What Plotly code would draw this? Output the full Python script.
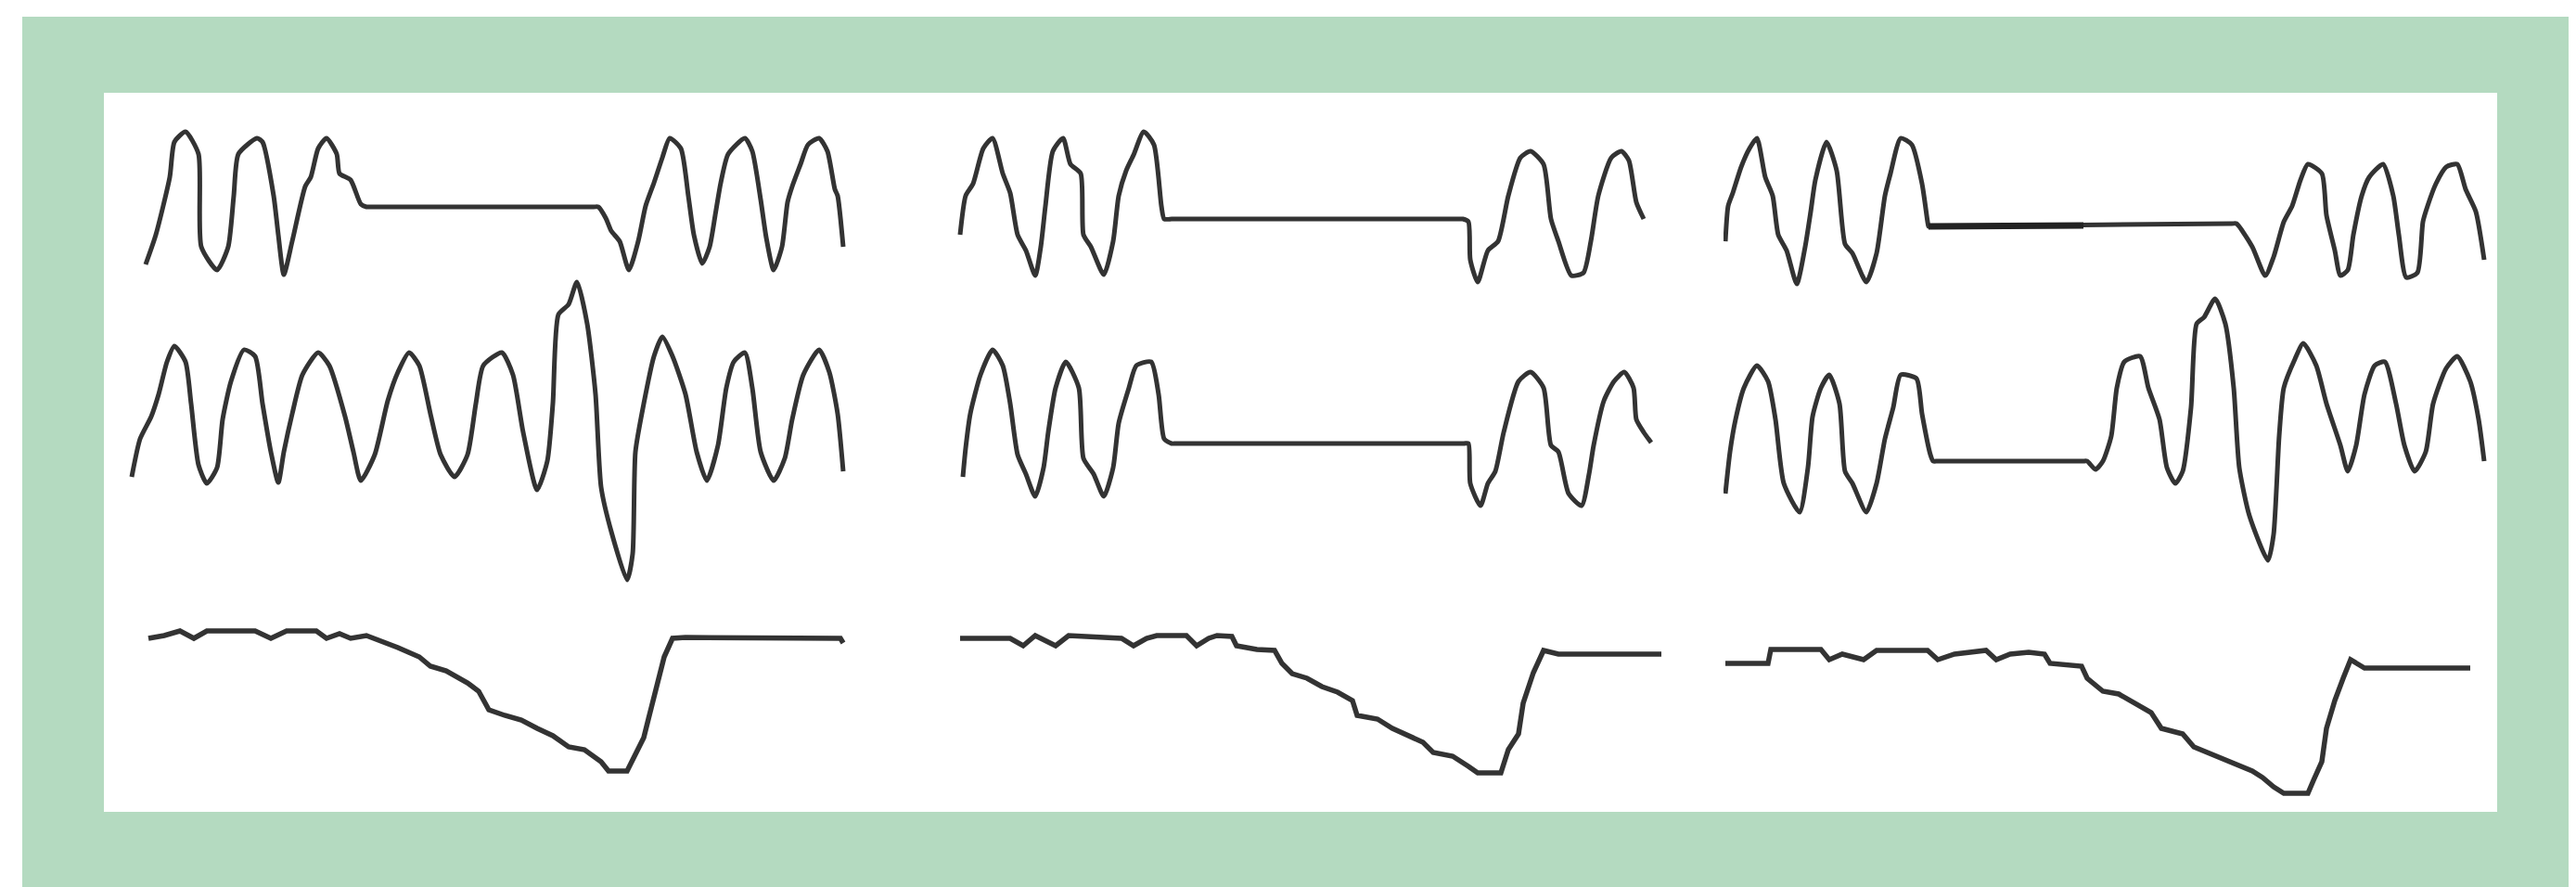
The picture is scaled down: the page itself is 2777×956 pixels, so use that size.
import plotly.graph_objects as go

# ---------------- data (time samples, amplitude) ----------------
# Row 1 : respiratory flow-like waveforms
r1c1_t = [19, 30, 45, 50, 62, 76, 79, 96, 108, 114, 119, 139, 145, 157, 162, 168, 177, 191, 197, 205, 214, 225, 228, 240, 251, 257,
          262, 502, 507, 515, 521, 530, 540, 550, 558, 567, 576, 584, 596, 604, 610, 619, 627, 633, 639, 647, 665, 673, 682, 688,
          696, 705, 711, 716, 725, 733, 745, 754, 762, 765, 771]
r1c1_a = [-62, -30, 32, 70, 81, 57, -43, -68, -43, 12, 57, 74, 70, 12, -30, -73, -37, 22, 32, 63, 74, 57, 36, 29, 3, 0,
          0, 0, 0, -12, -26, -37, -68, -37, 1, 26, 53, 74, 63, 12, -30, -61, -43, -9, 26, 57, 74, 60, 8, -33,
          -68, -43, 5, 22, 46, 67, 74, 60, 19, 12, -43]

r1c2_t = [7, 13, 21, 32, 42, 53, 61, 69, 78, 88, 94, 99, 107, 118, 126, 137, 140, 148, 162, 172, 178, 186, 194, 205, 216, 224, 227, 235,
          240, 544, 549, 555, 557, 565, 576, 587, 598, 611, 622, 636, 644, 652, 666, 679, 687, 695, 709, 720, 728, 736, 744]
r1c2_a = [-30, 12, 25, 63, 74, 36, 15, -30, -47, -74, -43, 1, 60, 74, 46, 36, -30, -43, -73, -37, 12, 39, 56, 81, 67, 1, -13, -13,
          -13, -13, -13, -16, -57, -81, -47, -37, 12, 53, 60, 46, -13, -37, -74, -71, -37, 12, 53, 60, 50, 5, -13]

r1c3_t = [2, 5, 10, 19, 28, 36, 45, 53, 59, 68, 79, 88, 94, 99, 111, 122, 131, 139, 154, 165, 174, 180, 191, 203, 214, 220, 221,
          226, 548, 553, 570, 584, 593, 604, 613, 622, 630, 645, 650, 659, 665, 673, 679, 688, 696, 711, 722, 728, 736, 748, 754,
          759, 768, 779, 791, 800, 811, 820]
r1c3_a = [-37, 1, 15, 43, 63, 74, 32, 12, -30, -47, -83, -43, -5, 29, 70, 39, -40, -50, -81, -50, 12, 36, 74, 67, 25, -16, -21,
          -21, -18, -18, -43, -74, -54, -16, 1, 29, 46, 36, -9, -47, -74, -68, -30, 12, 32, 46, 12, -30, -76, -71, -16,
          1, 25, 43, 46, 19, -5, -57]
r1c3_dark_t = [221, 388]
r1c3_dark_a = [-21, -20]

# Row 2 : pressure / effort waveforms
r2c1_t = [4, 13, 25, 33, 42, 50, 62, 68, 76, 85, 96, 102, 111, 125, 137, 145, 154, 162, 168, 177, 188, 205, 217, 234, 243, 251,
          266, 280, 291, 303, 314, 326, 337, 352, 366, 375, 383, 403, 415, 426, 441, 452, 458, 464, 475, 484, 495, 504, 510,
          521, 538, 544, 547, 556, 567, 576, 587, 601, 613, 624, 636, 645, 653, 665, 673, 682, 696, 708, 716, 728, 745, 756,
          765, 771]
r2c1_a = [-46, -5, 19, 43, 78, 95, 78, 33, -33, -53, -36, 16, 57, 91, 84, 33, -19, -52, -19, 22, 64, 88, 74, 19, -19, -50,
          -22, 36, 67, 88, 74, 22, -22, -46, -22, 33, 74, 88, 64, 2, -60, -29, 33, 129, 140, 164, 119, 43, -57,
          -105, -157, -129, -19, 33, 84, 105, 84, 43, -19, -50, -12, 50, 78, 88, 50, -19, -50, -26, 16, 64, 91, 67,
          22, -40]

r2c2_t = [10, 13, 18, 29, 42, 53, 61, 69, 78, 88, 97, 102, 110, 121, 135, 140, 151, 162, 172, 178, 189, 197, 213, 221, 227, 235,
          240, 550, 555, 557, 568, 576, 584, 593, 609, 622, 636, 644, 652, 663, 677, 685, 690, 701, 712, 723, 733, 736, 744, 752]
r2c2_a = [-46, -15, 22, 64, 91, 74, 33, -22, -43, -67, -36, 2, 50, 78, 50, -26, -43, -67, -36, 12, 50, 74, 78, 43, -5, -10,
          -10, -10, -10, -53, -77, -53, -40, 2, 57, 67, 50, -12, -19, -64, -77, -43, -12, 36, 57, 67, 50, 16, 2, -9]

r2c3_t = [2, 7, 13, 22, 36, 48, 56, 65, 82, 91, 96, 105, 114, 125, 131, 139, 154, 165, 174, 183, 191, 208, 214, 223, 226,
          231, 387, 392, 401, 409, 418, 424, 432, 449, 458, 470, 478, 487, 495, 504, 510, 518, 530, 541, 550, 556, 567, 587,
          593, 599, 604, 616, 625, 639, 650, 665, 673, 682, 691, 702, 713, 725, 734, 745, 757, 765, 779, 791, 805, 814, 820]
r2c3_a = [-64, -19, 16, 50, 74, 57, 16, -53, -84, -36, 19, 50, 64, 33, -40, -53, -84, -53, -5, 29, 64, 60, 22, -22, -29,
          -29, -29, -29, -38, -29, -2, 50, 78, 84, 50, 16, -36, -53, -40, 29, 119, 126, 146, 119, 50, -36, -88, -136,
          -108, -2, 50, 81, 98, 74, 33, -12, -40, -12, 43, 74, 78, 33, -12, -40, -19, 33, 71, 84, 57, 16, -29]

# Row 3 : saturation-like traces
r3c1_t = [22, 39, 56, 71, 85, 137, 154, 171, 203, 214, 228, 240, 257, 274, 291, 314, 326, 343, 366, 378, 389, 406, 424, 441,
          458, 475, 492, 510, 518, 538, 544, 556, 561, 570, 578, 587, 601, 768, 771]
r3c1_a = [0, 3, 8, 0, 8, 8, 0, 8, 8, 0, 5, 0, 3, -3, -10, -20, -30, -35, -48, -57, -77, -83, -88, -97,
          -105, -117, -120, -133, -143, -143, -130, -107, -87, -53, -20, 0, 1, 0, -5]

r3c2_t = [7, 61, 75, 88, 110, 124, 181, 194, 208, 219, 251, 262, 275, 284, 300, 305, 327, 346, 354, 365, 381, 397, 414, 430,
          435, 457, 473, 490, 506, 517, 538, 555, 565, 590, 598, 609, 614, 625, 636, 652, 763]
r3c2_a = [0, 0, -8, 3, -8, 3, 0, -8, 0, 3, 3, -8, 0, 3, 2, -8, -12, -13, -27, -38, -43, -52, -58, -67,
          -83, -87, -97, -105, -112, -123, -127, -138, -145, -145, -120, -103, -70, -37, -13, -17, -17]

r3c3_t = [2, 48, 51, 105, 114, 128, 151, 165, 220, 231, 249, 283, 294, 309, 329, 346, 352, 386, 392, 409, 426, 444, 461, 472,
          495, 507, 530, 553, 570, 581, 593, 604, 630, 636, 645, 650, 659, 668, 676, 691, 805]
r3c3_a = [-27, -27, -12, -12, -23, -17, -23, -13, -13, -23, -17, -13, -23, -17, -15, -17, -27, -30, -43, -57, -60, -70, -80, -97,
          -103, -117, -127, -137, -143, -150, -160, -167, -167, -153, -133, -97, -67, -43, -23, -32, -32]

panels = [
    (0, 0, r1c1_t, r1c1_a), (0, 1, r1c2_t, r1c2_a), (0, 2, r1c3_t, r1c3_a),
    (1, 0, r2c1_t, r2c1_a), (1, 1, r2c2_t, r2c2_a), (1, 2, r2c3_t, r2c3_a),
    (2, 0, r3c1_t, r3c1_a), (2, 1, r3c2_t, r3c2_a), (2, 2, r3c3_t, r3c3_a),
]

# ---------------- layout geometry (pixels) ----------------
FW, FH = 2777, 956
col_x0 = [130, 1020, 1850]
col_w = 830
row_ref = [215, 460, 680]          # zero-amplitude line of each row
row_band = [(95, 305), (280, 640), (630, 866)]

LINE = "#333333"

fig = go.Figure()
layout_axes = {}
for i, (r, c, t, a) in enumerate(panels):
    n = i + 1
    xs = "x" if n == 1 else f"x{n}"
    ys = "y" if n == 1 else f"y{n}"
    if r < 2:
        line = dict(color=LINE, width=5, shape="spline", smoothing=0.6)
    else:
        line = dict(color=LINE, width=5.5)
    fig.add_trace(go.Scatter(x=t, y=a, mode="lines", xaxis=xs, yaxis=ys,
                             line=line, showlegend=False, hoverinfo="skip"))
    top, bot = row_band[r]
    ref = row_ref[r]
    layout_axes["xaxis" if n == 1 else f"xaxis{n}"] = dict(
        domain=[col_x0[c] / FW, (col_x0[c] + col_w) / FW], range=[0, col_w],
        visible=False, anchor=ys, fixedrange=True)
    layout_axes["yaxis" if n == 1 else f"yaxis{n}"] = dict(
        domain=[1 - bot / FH, 1 - top / FH], range=[ref - bot, ref - top],
        visible=False, anchor=xs, fixedrange=True)
    if (r, c) == (0, 2):
        fig.add_trace(go.Scatter(x=r1c3_dark_t, y=r1c3_dark_a, mode="lines", xaxis=xs, yaxis=ys,
                                 line=dict(color="#222222", width=7), showlegend=False,
                                 hoverinfo="skip"))

fig.update_layout(
    width=FW, height=FH,
    margin=dict(l=0, r=0, t=0, b=0),
    paper_bgcolor="white",
    plot_bgcolor="rgba(0,0,0,0)",
    showlegend=False,
    shapes=[
        dict(type="rect", xref="paper", yref="paper", layer="below",
             x0=16 / FW, x1=2768 / FW, y0=0, y1=1 - 10 / FH,
             fillcolor="#b4dac0", line=dict(width=0)),
        dict(type="rect", xref="paper", yref="paper", layer="below",
             x0=104 / FW, x1=2684 / FW, y0=1 - 867 / FH, y1=1 - 92 / FH,
             fillcolor="white", line=dict(width=0)),
    ],
    **layout_axes,
)

fig.write_html("out.html", config={"displayModeBar": False})
